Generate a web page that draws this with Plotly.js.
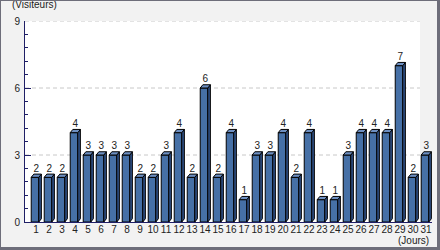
<!DOCTYPE html>
<html>
<head>
<meta charset="utf-8">
<script src="https://cdn.plot.ly/plotly-3.0.1.min.js"></script>
<style>
  html, body { margin: 0; padding: 0; background: #f2f2f2; }
  #wrap { position: relative; width: 440px; height: 250px; }
  #chart { width: 440px; height: 250px; }
  #frame { position: absolute; left: 0; top: 0; width: 440px; height: 250px; box-sizing: border-box;
           border-style: solid; border-color: #6e6e7a; border-width: 1px 3px 3px 1px; pointer-events: none; }
</style>
</head>
<body>
<div id="wrap"><div id="chart"></div><div id="frame"></div></div>
<script>
// Data
const days = [1,2,3,4,5,6,7,8,9,10,11,12,13,14,15,16,17,18,19,20,21,22,23,24,25,26,27,28,29,30,31];
const dayLabels = ["1","2","3","4","5","6","7","8","9","10","11","12","13","14","15","16","17","18","19","20","21","22","23","24","25","26","27","28","29","30","31"];
const visitors = [2,2,2,4,3,3,3,3,2,2,3,4,2,6,2,4,1,3,3,4,2,4,1,1,3,4,4,4,7,2,3];
const yTicks = [0,3,6,9];

// 3D bar styling
const W = 0.58, DX = 0.2, DY = 0.145;
const FRONT = '#4670a6', TOP = '#6d8fc2', SIDE = '#2f5187';
const FONT = '"Liberation Sans", Arial, sans-serif';

const topX = [], topY = [], sideX = [], sideY = [];
days.forEach((d, i) => {
  const v = visitors[i];
  const l = d - W / 2, r = d + W / 2;
  topX.push(l, l + DX, r + DX, r, l, null);
  topY.push(v, v + DY, v + DY, v, v, null);
  sideX.push(r, r, r + DX, r + DX, r, null);
  sideY.push(0, v, v + DY, DY, 0, null);
});

const traces = [
  { type: 'bar', x: days, y: visitors, width: W,
    marker: { color: FRONT, line: { color: '#000', width: 1 } }, hoverinfo: 'skip' },
  { type: 'scatter', mode: 'lines', x: sideX, y: sideY, fill: 'toself', fillcolor: SIDE,
    line: { color: '#000', width: 1 }, hoverinfo: 'skip', connectgaps: false },
  { type: 'scatter', mode: 'lines', x: topX, y: topY, fill: 'toself', fillcolor: TOP,
    line: { color: '#000', width: 1 }, hoverinfo: 'skip', connectgaps: false },
  { type: 'scatter', mode: 'text', x: days.map(d => d + DX / 2), y: visitors.map(v => v + DY),
    text: visitors.map(String), textposition: 'top center', cliponaxis: false,
    textfont: { family: FONT, size: 10, color: '#222' }, hoverinfo: 'skip' }
];

const WHITE_END = 0.9705;
const shapes = [
  { type: 'rect', xref: 'paper', yref: 'paper', x0: 0, x1: WHITE_END, y0: 0, y1: 1,
    fillcolor: '#ffffff', line: { width: 0 }, layer: 'below' }
];
[3, 6, 9].forEach(g => shapes.push({
  type: 'line', xref: 'paper', yref: 'y', x0: 0, x1: WHITE_END, y0: g, y1: g,
  line: { color: '#c8c8c8', width: 1, dash: '4px,3px' }, layer: 'below'
}));

const layout = {
  width: 440, height: 250,
  margin: { l: 25, r: 8, t: 21, b: 28, pad: 0 },
  paper_bgcolor: '#f2f2f2', plot_bgcolor: '#f2f2f2',
  showlegend: false, hovermode: false,
  font: { family: FONT, size: 10, color: '#222' },
  xaxis: {
    range: [1 - 10 / 13, 1 - 10 / 13 + 407 / 13],
    tickvals: days, ticktext: dayLabels, ticks: '', showgrid: false, zeroline: false,
    tickangle: 0, automargin: false, ticklabelstandoff: -2,
    showline: true, linecolor: '#1f1f66', linewidth: 1, ticklabelshift: 1,
    tickfont: { family: FONT, size: 10, color: '#222' }
  },
  yaxis: {
    range: [0, 9], tickvals: yTicks, ticktext: yTicks.map(String),
    ticks: 'inside', ticklen: 6, tickcolor: '#1f1f66', tickwidth: 1,
    minor: { dtick: 0.6, ticks: 'inside', ticklen: 3, tickcolor: '#1f1f66', showgrid: false },
    showgrid: false, zeroline: false, showline: true, linecolor: '#1f1f66', linewidth: 1,
    tickfont: { family: FONT, size: 10, color: '#222' }, ticklabelstandoff: 2
  },
  shapes: shapes,
  annotations: [
    { text: '(Visiteurs)', xref: 'paper', yref: 'paper', x: (10 - 25) / 407, y: (222 - 4) / 201,
      xanchor: 'left', yanchor: 'middle', showarrow: false, font: { family: FONT, size: 10, color: '#222' } },
    { text: '(Jours)', xref: 'paper', yref: 'paper', x: (431 - 25) / 407, y: (222 - 241) / 201,
      xanchor: 'right', yanchor: 'middle', showarrow: false, font: { family: FONT, size: 10, color: '#222' } }
  ]
};

Plotly.newPlot('chart', traces, layout, { displayModeBar: false, staticPlot: true });
</script>
</body>
</html>
